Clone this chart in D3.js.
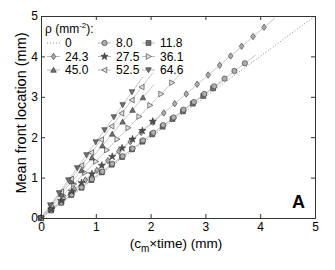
<!DOCTYPE html>
<html>
<head>
<meta charset="utf-8">
<script src="https://cdn.jsdelivr.net/npm/d3@7"></script>
<style>
  body { margin: 0; background: #fff; }
  text { font-family: "Liberation Sans", Arial, sans-serif; }
</style>
</head>
<body>
<div id="chart"></div>
<script>
// series labels (rho, mm^-2) and marker shapes
var labels = ["0", "24.3", "45.0", "8.0", "27.5", "52.5", "11.8", "36.1", "64.6"];
var shapes = ["none", "diamond", "up", "circle", "star", "left", "square", "right", "down"];

// x = c_m * time (mm), y = mean front location (mm)
var x8 = [0,0.19,0.37,0.56,0.74,0.93,1.12,1.30,1.49,1.67,1.86,2.05,2.23,2.42,2.60,2.79,2.98,3.16,3.35,3.53,3.72];
var y8 = [0,0.19,0.38,0.58,0.76,0.96,1.15,1.34,1.53,1.72,1.92,2.11,2.30,2.49,2.68,2.87,3.07,3.26,3.45,3.64,3.83];
var x118 = [0,0.18,0.37,0.55,0.74,0.92,1.11,1.29,1.48,1.66,1.85,2.03,2.22,2.40,2.59,2.77,2.96,3.14];
var y118 = [0,0.19,0.38,0.57,0.75,0.94,1.13,1.32,1.51,1.70,1.89,2.07,2.26,2.45,2.64,2.83,3.02,3.21];
var x243 = [0,0.20,0.41,0.61,0.81,1.02,1.22,1.42,1.63,1.83,2.04,2.24,2.44,2.65,2.85,3.05,3.26,3.46,3.66,3.87,4.07];
var y243 = [0,0.23,0.48,0.71,0.94,1.18,1.42,1.65,1.89,2.12,2.37,2.60,2.83,3.07,3.31,3.54,3.78,4.01,4.25,4.49,4.72];
var x275 = [0,0.19,0.37,0.56,0.74,0.93,1.11,1.30,1.48,1.67,1.85,2.04];
var y275 = [0,0.22,0.43,0.66,0.87,1.09,1.30,1.52,1.73,1.95,2.16,2.39];
var x361 = [0,0.20,0.40,0.60,0.80,1.00,1.20,1.39,1.59,1.79,1.99,2.19,2.39];
var y361 = [0,0.28,0.56,0.84,1.12,1.40,1.68,1.95,2.23,2.51,2.79,3.07,3.35];
var x450 = [0,0.19,0.37,0.56,0.74,0.93,1.12,1.30,1.49,1.67,1.86];
var y450 = [0,0.30,0.59,0.90,1.18,1.49,1.79,2.08,2.38,2.67,2.98];
var x525 = [0,0.18,0.37,0.55,0.74,0.92,1.10,1.29,1.47,1.66,1.84];
var y525 = [0,0.32,0.65,0.97,1.30,1.62,1.94,2.27,2.59,2.92,3.24];
var x646 = [0,0.17,0.33,0.50,0.66,0.83,1.00,1.16,1.33,1.49,1.66];
var y646 = [0,0.32,0.62,0.94,1.24,1.56,1.88,2.18,2.50,2.80,3.12];
var xTicks = [0, 1, 2, 3, 4, 5];
var yTicks = [0, 1, 2, 3, 4, 5];

var series = [
    { shape: "square", xs: x118, ys: y118 },
    { shape: "circle", xs: x8, ys: y8 },
    { shape: "diamond", xs: x243, ys: y243 },
    { shape: "star", xs: x275, ys: y275 },
    { shape: "right", xs: x361, ys: y361 },
    { shape: "up", xs: x450, ys: y450 },
    { shape: "left", xs: x525, ys: y525 },
    { shape: "down", xs: x646, ys: y646 }
];

var margin = { left: 41, right: 20, top: 16, bottom: 52 };
var width = 335 - margin.left - margin.right;
var height = 270 - margin.top - margin.bottom;

var svg = d3.select("#chart").append("svg")
    .attr("width", 335)
    .attr("height", 270);

var g = svg.append("g")
    .attr("transform", "translate(" + margin.left + "," + margin.top + ")");

var x = d3.scaleLinear().domain([0, 5]).range([0, width]);
var y = d3.scaleLinear().domain([0, 5]).range([height, 0]);

function symbolPath(shape) {
    var s = 2.8;
    if (shape == "circle") return d3.symbol(d3.symbolCircle, 22)();
    if (shape == "square") return d3.symbol(d3.symbolSquare, 24)();
    if (shape == "diamond") return "M0,-3.2L2.3,0L0,3.2L-2.3,0Z";
    if (shape == "star") return d3.symbol(d3.symbolStar, 16)();
    if (shape == "up") return "M0,-" + s + "L" + s + "," + (s * 0.8) + "L-" + s + "," + (s * 0.8) + "Z";
    if (shape == "down") return "M0," + s + "L" + s + ",-" + (s * 0.8) + "L-" + s + ",-" + (s * 0.8) + "Z";
    if (shape == "left") return "M-" + s + ",0L" + (s * 0.8) + ",-" + s + "L" + (s * 0.8) + "," + s + "Z";
    if (shape == "right") return "M" + s + ",0L-" + (s * 0.8) + ",-" + s + "L-" + (s * 0.8) + "," + s + "Z";
    return "";
}
function fillOf(shape) {
    if (shape == "square" || shape == "up" || shape == "down") return "#707070";
    if (shape == "star") return "#505050";
    if (shape == "left" || shape == "right") return "#e0e0e0";
    return "#adadad";
}

// dotted reference line (rho = 0)
g.append("line")
    .attr("x1", x(0)).attr("y1", y(0))
    .attr("x2", x(5)).attr("y2", y(5))
    .attr("stroke", "#888")
    .attr("stroke-width", 1)
    .attr("stroke-dasharray", "1,2");

// fit lines
series.forEach(function (s) {
    var n = s.xs.length - 1;
    var k = s.ys[n] / s.xs[n];
    var xe = s.xs[n] + 0.2;
    g.append("line")
        .attr("x1", x(0)).attr("y1", y(0))
        .attr("x2", x(xe)).attr("y2", y(k * xe))
        .attr("stroke", "#c8c8c8")
        .attr("stroke-width", 1);
});

// markers
series.forEach(function (s) {
    g.selectAll(null)
        .data(s.xs.map(function (d, i) { return [d, s.ys[i]]; }))
        .enter()
        .append("path")
        .attr("d", symbolPath(s.shape))
        .attr("transform", function (d) { return "translate(" + x(d[0]) + "," + y(d[1]) + ")"; })
        .attr("fill", fillOf(s.shape))
        .attr("stroke", "#333")
        .attr("stroke-width", 0.6);
});

// axes box with inward ticks
var axisColor = "#333";
var xAxisCall = d3.axisBottom(x).tickValues(xTicks).tickSize(-4).tickPadding(4).tickFormat(d3.format("d"));
var gx = g.append("g").attr("transform", "translate(0," + height + ")").call(xAxisCall);
var yAxisCall = d3.axisLeft(y).tickValues(yTicks).tickSize(-4).tickPadding(3).tickFormat(d3.format("d"));
var gy = g.append("g").call(yAxisCall);
var gt = g.append("g").call(d3.axisTop(x).tickValues(xTicks).tickSize(-4).tickFormat(""));
var gr = g.append("g").attr("transform", "translate(" + width + ",0)")
    .call(d3.axisRight(y).tickValues(yTicks).tickSize(-4).tickFormat(""));
[gx, gy, gt, gr].forEach(function (a) {
    a.selectAll("path, line").attr("stroke", axisColor);
    a.selectAll("text").attr("font-size", "12px").attr("fill", "#000")
        .attr("font-family", "Liberation Sans, Arial, sans-serif");
});

// axis titles
var xt = svg.append("text")
    .attr("x", 176).attr("y", 248)
    .attr("text-anchor", "middle")
    .attr("font-size", "13.5px");
xt.append("tspan").text("(c");
xt.append("tspan").attr("font-size", "10px").attr("dy", 4).text("m");
xt.append("tspan").attr("dy", -4).text("\u00d7time) (mm)");

svg.append("text")
    .attr("transform", "translate(26,113) rotate(-90)")
    .attr("text-anchor", "middle")
    .attr("font-size", "14.5px")
    .text("Mean front location (mm)");

// panel letter
svg.append("text")
    .attr("x", 292).attr("y", 208)
    .attr("font-size", "18px")
    .attr("font-weight", "bold")
    .text("A");

// legend
var lt = svg.append("text").attr("x", 45).attr("y", 33).attr("font-size", "12px");
lt.append("tspan").text("\u03c1 (mm");
lt.append("tspan").attr("font-size", "8px").attr("dy", -5).text("-2");
lt.append("tspan").attr("dy", 5).text("):");

var colX = [47, 98, 142];
var rowY = [43, 56.5, 70];
labels.forEach(function (lab, i) {
    var c = Math.floor(i / 3), r = i % 3;
    var lx = colX[c], ly = rowY[r];
    var shp = shapes[i];
    var lg = svg.append("g");
    lg.append("line")
        .attr("x1", lx).attr("y1", ly).attr("x2", lx + 13).attr("y2", ly)
        .attr("stroke", shp == "none" ? "#888" : "#bbb")
        .attr("stroke-dasharray", shp == "none" ? "1,2" : null);
    if (shp != "none") {
        lg.append("path")
            .attr("d", symbolPath(shp))
            .attr("transform", "translate(" + (lx + 6.5) + "," + ly + ")")
            .attr("fill", fillOf(shp))
            .attr("stroke", "#333")
            .attr("stroke-width", 0.6);
    }
    lg.append("text")
        .attr("x", lx + 18).attr("y", ly + 4.3)
        .attr("font-size", "12px")
        .text(lab);
});
</script>
</body>
</html>
